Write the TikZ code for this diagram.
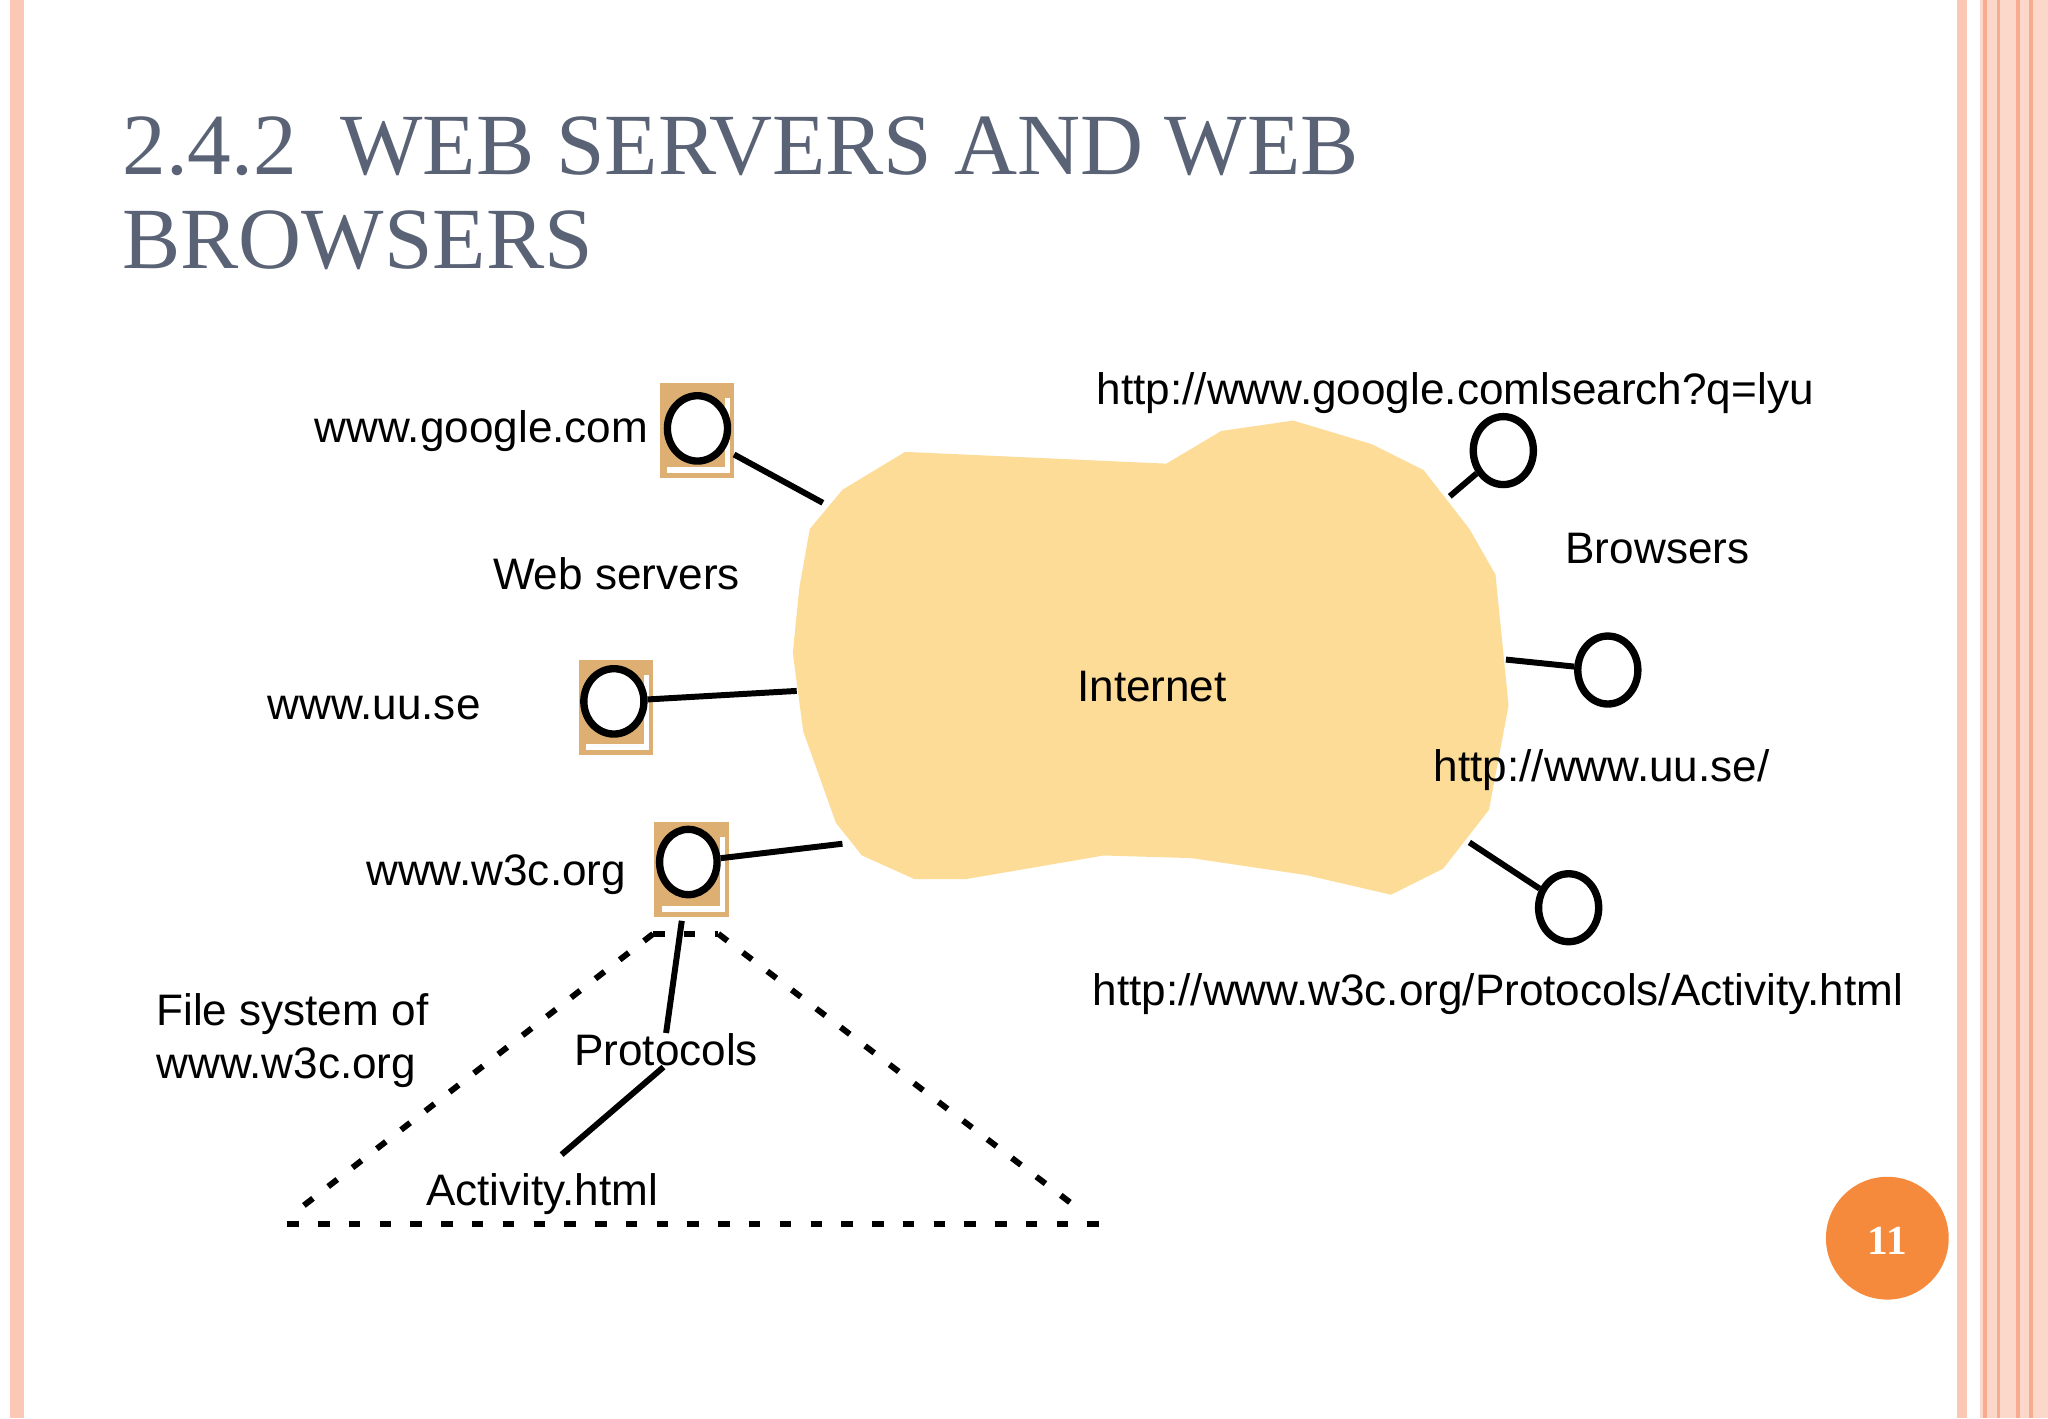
\documentclass[tikz,border=0pt]{standalone}
\usepackage{fontspec}
\usetikzlibrary{shapes.geometric}
\setmainfont{Liberation Sans}
\newfontfamily\titlefont{Liberation Serif}
\begin{document}
\begin{tikzpicture}[x=0.01cm,y=-0.01cm,
  lbl/.style={font=\fontsize{9.6pt}{11.5pt}\selectfont,inner sep=0},
  host/.style={draw=black,line width=1.6pt,fill=white},
  conn/.style={line width=1.3pt},
  dsh/.style={line width=1.3pt,dash pattern=on 2.5pt off 4.2pt}]
\definecolor{srvtan}{HTML}{DDAF73}
\definecolor{cloud}{HTML}{FCDC97}
\definecolor{titlec}{HTML}{5A6275}
\definecolor{pinkb}{HTML}{FAC8B4}
\definecolor{orangec}{HTML}{F58A3C}
\useasboundingbox (0,0) rectangle (1568,1086);
\fill[white] (0,0) rectangle (1568,1086);
% borders
\fill[pinkb] (8,0) rectangle (18,1086);
\fill[pinkb] (1498,0) rectangle (1506,1086);
\fill[pinkb!70] (1516,0) rectangle (1568,1086);
\foreach \x in {1520,1530,1545,1555}{\draw[pinkb!150,line width=0.8pt] (\x,0) -- (\x,1086);}
% title
\node[anchor=west,inner sep=0,text=titlec,font=\titlefont\fontsize{19pt}{20pt}\selectfont] (t1) at (93,112) {2.4.2\ \ WEB SERVERS AND WEB};
\node[anchor=west,inner sep=0,text=titlec,font=\titlefont\fontsize{19pt}{20pt}\selectfont] (t2) at (93,184) {BROWSERS};
% cloud
\fill[cloud] (693,346) -- (893,355) -- (935,330) -- (990,322) -- (1050,340) -- (1090,360) -- (1125,405) -- (1145,440) -- (1155,540) -- (1140,620) -- (1105,665) -- (1065,685) -- (1000,670) -- (912,657) -- (845,655) -- (740,673) -- (700,673) -- (660,655) -- (640,630) -- (615,560) -- (607,500) -- (612,450) -- (620,405) -- (645,375) -- cycle;
\node[lbl] (inet) at (882,526) {Internet};
% servers
\foreach \n/\x/\y in {sg/505/293, su/443/505, sw/501/629}{
  \fill[srvtan] (\x,\y) rectangle ++(57,73);
  \draw[white,line width=1.2pt] (\x+6,\y+67) -- (\x+52,\y+67) -- (\x+52,\y+12);
}
\node[host,ellipse,minimum width=0.46cm,minimum height=0.5cm,inner sep=0] (cg) at (534,328) {};
\node[host,ellipse,minimum width=0.46cm,minimum height=0.5cm,inner sep=0] (cu) at (470,537) {};
\node[host,ellipse,minimum width=0.44cm,minimum height=0.5cm,inner sep=0] (cw) at (527,660) {};
\coordinate (eg) at (630,385); \coordinate (sg1) at (562,348);
\draw[conn] (sg1) -- (eg);
\coordinate (eu) at (610,529); \draw[conn] (cu) -- (eu);
\coordinate (ew) at (645,646); \draw[conn] (cw) -- (ew);
% browsers
\node[host,ellipse,minimum width=0.46cm,minimum height=0.52cm,inner sep=0] (b1) at (1151,345) {};
\node[host,ellipse,minimum width=0.46cm,minimum height=0.52cm,inner sep=0] (b2) at (1231,513) {};
\node[host,ellipse,minimum width=0.46cm,minimum height=0.52cm,inner sep=0] (b3) at (1201,695) {};
\coordinate (e1) at (1110,380); \draw[conn] (e1) -- (b1);
\coordinate (e2) at (1153,505); \draw[conn] (e2) -- (b2);
\coordinate (e3) at (1125,645); \draw[conn] (e3) -- (b3);
% labels
\node[lbl,anchor=east] (lg) at (497,330) {www.google.com};
\node[lbl] (lws) at (472,439) {Web servers};
\node[lbl,anchor=west] (lu) at (204,542) {www.uu.se};
\node[lbl,anchor=east] (lw) at (480,670) {www.w3c.org};
\node[lbl,anchor=west] (lq) at (839,301) {http://www.google.comlsearch?q=lyu};
\node[lbl] (lb) at (1269,420) {Browsers};
\node[lbl,anchor=west] (luu) at (1097,590) {http://www.uu.se/};
\node[lbl,anchor=west] (lact) at (836,761) {http://www.w3c.org/Protocols/Activity.html};
\node[lbl,anchor=west,align=left] (lfs) at (119,797) {File system of\\www.w3c.org};
\node[lbl] (lp) at (510,804) {Protocols};
\node[lbl] (la) at (415,914) {Activity.html};
% tree
\coordinate (tl) at (230,925); \coordinate (tr) at (825,925);
\coordinate (ta) at (500,715); \coordinate (tb) at (550,715);
\draw[dsh] (220,937) -- (845,937);
\draw[dsh] (ta) -- (tl);
\draw[dsh] (tb) -- (tr);
\draw[dsh] (ta) -- (tb);
\draw[conn] (522,705) -- (lp.north);
\draw[conn] (508,817) -- (430,884);
% page number
\fill[orangec] (1445,948) circle (47);
\node[text=white,font=\titlefont\bfseries\fontsize{9pt}{10pt}\selectfont] (pn) at (1445,950) {11};
\end{tikzpicture}
\end{document}
